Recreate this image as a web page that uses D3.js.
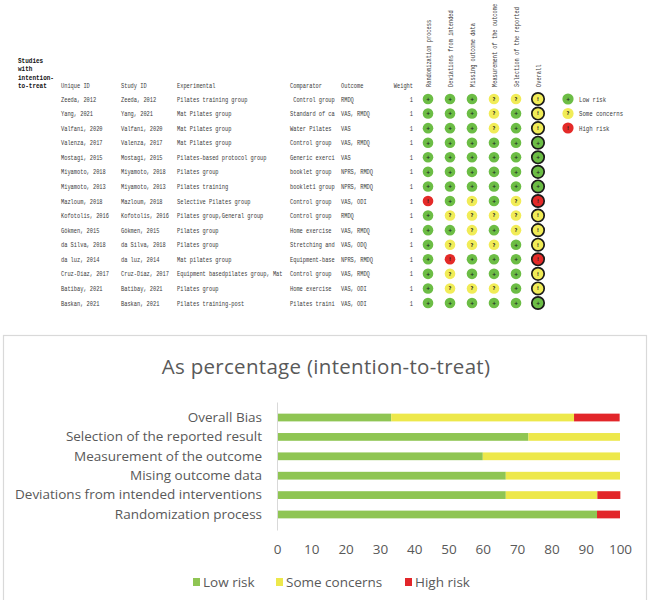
<!DOCTYPE html>
<html>
<head>
<meta charset="utf-8">
<script src="https://cdn.jsdelivr.net/npm/d3@7"></script>
<style>
  body { margin: 0; background: #fff; }
  .cell { font-family: "Liberation Mono", monospace; font-size: 7.5px; fill: #3a3a3a; }
  .bold { font-weight: bold; fill: #111; }
  .sym { font-family: "DejaVu Sans", sans-serif; font-size: 5px; fill: #222; font-weight: bold; }
  .chart text { font-family: "Open Sans", "Noto Sans", sans-serif; fill: #595959; }
</style>
</head>
<body>
<svg id="fig" width="650" height="600"></svg>
<script>
// ---- traffic light table data ----
const uniqueIds = ["Zeeda, 2012", "Yang, 2021", "Valfani, 2020", "Valenza, 2017", "Mostagi, 2015",
  "Miyamoto, 2018", "Miyamoto, 2013", "Mazloum, 2018", "Kofotolis, 2016", "Gökmen, 2015",
  "da Silva, 2018", "da luz, 2014", "Cruz-Díaz, 2017", "Batibay, 2021", "Baskan, 2021"];
const studyIds = uniqueIds.slice();
const experimental = ["Pilates training group", "Mat Pilates group", "Mat Pilates group", "Mat Pilates group",
  "Pilates-based protocol group", "Pilates group", "Pilates training", "Selective Pilates group",
  "Pilates group,General group", "Pilates group", "Pilates group", "Mat pilates group",
  "Equipment basedpilates group, Mat", "Pilates group", "Pilates training-post"];
const comparator = [" Control group", "Standard of ca", "Water Pilates", "Control group", "Generic exerci",
  "booklet group", "booklet1 group", "Control group", "Control group", "Home exercise",
  "Stretching and", "Equipment-base", "Control group", "Home exercise", "Pilates traini"];
const outcome = ["RMDQ", "VAS, RMDQ", "VAS", "VAS, RMDQ", "VAS", "NPRS, RMDQ", "NPRS, RMDQ", "VAS, ODI",
  "RMDQ", "VAS, RMDQ", "VAS, ODQ", "NPRS, RMDQ", "VAS, RMDQ", "VAS, ODI", "VAS, ODI"];
const weight = [1, 1, 1, 1, 1, 1, 1, 1, 1, 1, 1, 1, 1, 1, 1];
const domains = ["Randomization process", "Deviations from intended", "Missing outcome data",
  "Measurement of the outcome", "Selection of the reported", "Overall"];
// L = low risk, S = some concerns, H = high risk (one string per study, one letter per domain)
const judgements = ["LLLSSS", "LLLSLS", "LLLSLS", "LLLLLL", "LLLLLL", "LLLLLL", "LLLLLL", "HLSLSH",
  "LSSSSS", "LLSLSS", "LSSSLS", "LHLLLH", "LSLLLS", "LSSSLS", "LLLLLL"];
const legendLabels = ["Low risk", "Some concerns", "High risk"];

// ---- bar chart data ----
const barCategories = ["Randomization process", "Deviations from intended interventions",
  "Mising outcome data", "Measurement of the outcome", "Selection of the reported result", "Overall Bias"];
const lowRisk = [93.3, 66.7, 66.7, 60, 73.3, 33.3];
const someConcerns = [0, 26.7, 33.3, 40, 26.7, 53.3];
const highRisk = [6.7, 6.7, 0, 0, 0, 13.3];
const xTicks = [0, 10, 20, 30, 40, 50, 60, 70, 80, 90, 100];

const riskColor = {L: "#6cbd45", S: "#f1ec57", H: "#e42a28"};
const riskSym = {L: "+", S: "?", H: "!"};
const overallSym = {L: "+", S: "!", H: "!"};

const svg = d3.select("#fig");

// mono glyphs are 0.6em wide; squeeze them horizontally to the narrow look of the original
const MONO = 7.5 * 0.6;
const sq = perChar => perChar / MONO;

// ================= table =================
const tbl = svg.append("g");
const y = d3.scalePoint().domain(uniqueIds).range([99, 303]);
const xDot = d3.scalePoint().domain(domains).range([428, 538]);

// header "Studies with intention-to-treat"
tbl.selectAll("text.st").data(["Studies", "with", "intention-", "to-treat"]).enter().append("text")
  .attr("class", "cell bold st")
  .attr("transform", (d, i) => `translate(18,${63 + i * 8.4}) scale(${sq(3.6)},1)`)
  .text(d => d);

const cols = [
  {head: "Unique ID", x: 61, w: 58, vals: uniqueIds},
  {head: "Study ID", x: 121, w: 54, vals: studyIds},
  {head: "Experimental", x: 177, w: 112, vals: experimental},
  {head: "Comparator", x: 290, w: 50, vals: comparator},
  {head: "Outcome", x: 341, w: 48, vals: outcome}
];

const defs = svg.append("defs");
cols.forEach((c, ci) => {
  defs.append("clipPath").attr("id", "clip" + ci)
    .append("rect").attr("x", c.x - 1).attr("y", 70).attr("width", c.w).attr("height", 250);
  const g = tbl.append("g").attr("clip-path", `url(#clip${ci})`);
  g.append("text").attr("class", "cell")
    .attr("transform", `translate(${c.x},88) scale(${sq(3.2)},1)`).text(c.head);
  g.selectAll("text.v").data(c.vals).enter().append("text")
    .attr("class", "cell v")
    .attr("transform", (d, i) => `translate(${c.x},${y(uniqueIds[i]) + 2.6}) scale(${sq(3.2)},1)`)
    .attr("xml:space", "preserve")
    .text(d => d);
});

tbl.append("text").attr("class", "cell").attr("text-anchor", "end")
  .attr("transform", `translate(413,88) scale(${sq(3.2)},1)`).text("Weight");
tbl.selectAll("text.w").data(weight).enter().append("text")
  .attr("class", "cell w").attr("text-anchor", "end")
  .attr("transform", (d, i) => `translate(413,${y(uniqueIds[i]) + 2.6}) scale(${sq(3.2)},1)`)
  .text(d => d);

// rotated domain headers
tbl.selectAll("text.dh").data(domains).enter().append("text")
  .attr("class", "cell dh")
  .attr("transform", d => `translate(${xDot(d) + 2.5},87) rotate(-90) scale(${sq(3.2)},1)`)
  .text(d => d);

// dots
const rows = tbl.selectAll("g.row").data(judgements).enter().append("g")
  .attr("class", "row")
  .attr("transform", (d, i) => `translate(0,${y(uniqueIds[i])})`);

const cells = rows.selectAll("g.dot").data(d => d.split("").map((r, j) => ({r: r, dom: domains[j], j: j})))
  .enter().append("g").attr("class", "dot")
  .attr("transform", d => `translate(${xDot(d.dom)},0)`);

cells.append("circle")
  .attr("r", d => d.j === domains.length - 1 ? 6.2 : 5.3)
  .attr("fill", d => riskColor[d.r])
  .attr("stroke", d => d.j === domains.length - 1 ? "#1a1a1a" : "none")
  .attr("stroke-width", 1.7);
cells.append("text").attr("class", "sym").attr("text-anchor", "middle").attr("dy", 1.8)
  .text(d => d.j === domains.length - 1 ? overallSym[d.r] : riskSym[d.r]);

// legend on the right
const yLeg = d3.scalePoint().domain(legendLabels).range([99, 128]);
const legG = tbl.selectAll("g.leg").data(["L", "S", "H"]).enter().append("g")
  .attr("transform", (d, i) => `translate(568,${yLeg(legendLabels[i])})`);
legG.append("circle").attr("r", 5.6).attr("fill", d => riskColor[d]);
legG.append("text").attr("class", "sym").attr("text-anchor", "middle").attr("dy", 1.8).text(d => riskSym[d]);
legG.append("text").attr("class", "cell")
  .attr("transform", `translate(11,2.6) scale(${sq(3.4)},1)`)
  .text((d, i) => legendLabels[i]);

// ================= bar chart =================
const chart = svg.append("g").attr("class", "chart");
chart.append("rect").attr("x", 3.5).attr("y", 335.5).attr("width", 643).attr("height", 270)
  .attr("fill", "#fff").attr("stroke", "#d9d9d9").attr("stroke-width", 1.2);

chart.append("text").attr("x", 326).attr("y", 374).attr("text-anchor", "middle")
  .attr("font-size", 20.5).attr("letter-spacing", 0.3).text("As percentage (intention-to-treat)");

const x = d3.scaleLinear().domain([0, 100]).range([277, 620]);
const yb = d3.scaleBand().domain(barCategories.slice().reverse()).range([402, 530]).padding(0.6);

const table = barCategories.map((c, i) => ({cat: c, low: lowRisk[i], some: someConcerns[i], high: highRisk[i]}));
const keys = ["low", "some", "high"];
const barColor = {low: "#8fc553", some: "#ede84b", high: "#e2262a"};
const stacked = d3.stack().keys(keys)(table);

chart.append("g").selectAll("g").data(stacked).enter().append("g")
  .attr("fill", s => barColor[s.key])
  .selectAll("rect").data(s => s).enter().append("rect")
  .attr("x", d => x(d[0]))
  .attr("width", d => x(d[1]) - x(d[0]))
  .attr("y", d => yb(d.data.cat))
  .attr("height", yb.bandwidth());

// vertical axis line and category labels
const yAxis = chart.append("g").attr("transform", `translate(${x(0)},0)`)
  .call(d3.axisLeft(yb).tickSize(0).tickPadding(15));
yAxis.select(".domain").attr("stroke", "#d9d9d9");
yAxis.selectAll("text").attr("font-size", 13.5).attr("font-family", "Open Sans, sans-serif").attr("fill", "#595959");

const xAxis = chart.append("g").attr("transform", "translate(0,530)")
  .call(d3.axisBottom(x).tickValues(xTicks).tickSize(0).tickPadding(14));
xAxis.select(".domain").remove();
xAxis.selectAll("text").attr("font-size", 13.5).attr("font-family", "Open Sans, sans-serif").attr("fill", "#595959");

// legend
const legendNames = ["Low risk", "Some concerns", "High risk"];
const xLeg = d3.scaleOrdinal().domain(keys).range([193, 276, 405]);
const bl = chart.selectAll("g.bl").data(keys).enter().append("g")
  .attr("transform", d => `translate(${xLeg(d)},577)`);
bl.append("rect").attr("width", 7).attr("height", 8).attr("y", 1).attr("fill", d => barColor[d]);
bl.append("text").attr("x", 10).attr("y", 9.5).attr("font-size", 13.5)
  .text((d, i) => legendNames[i]);
</script>
</body>
</html>
